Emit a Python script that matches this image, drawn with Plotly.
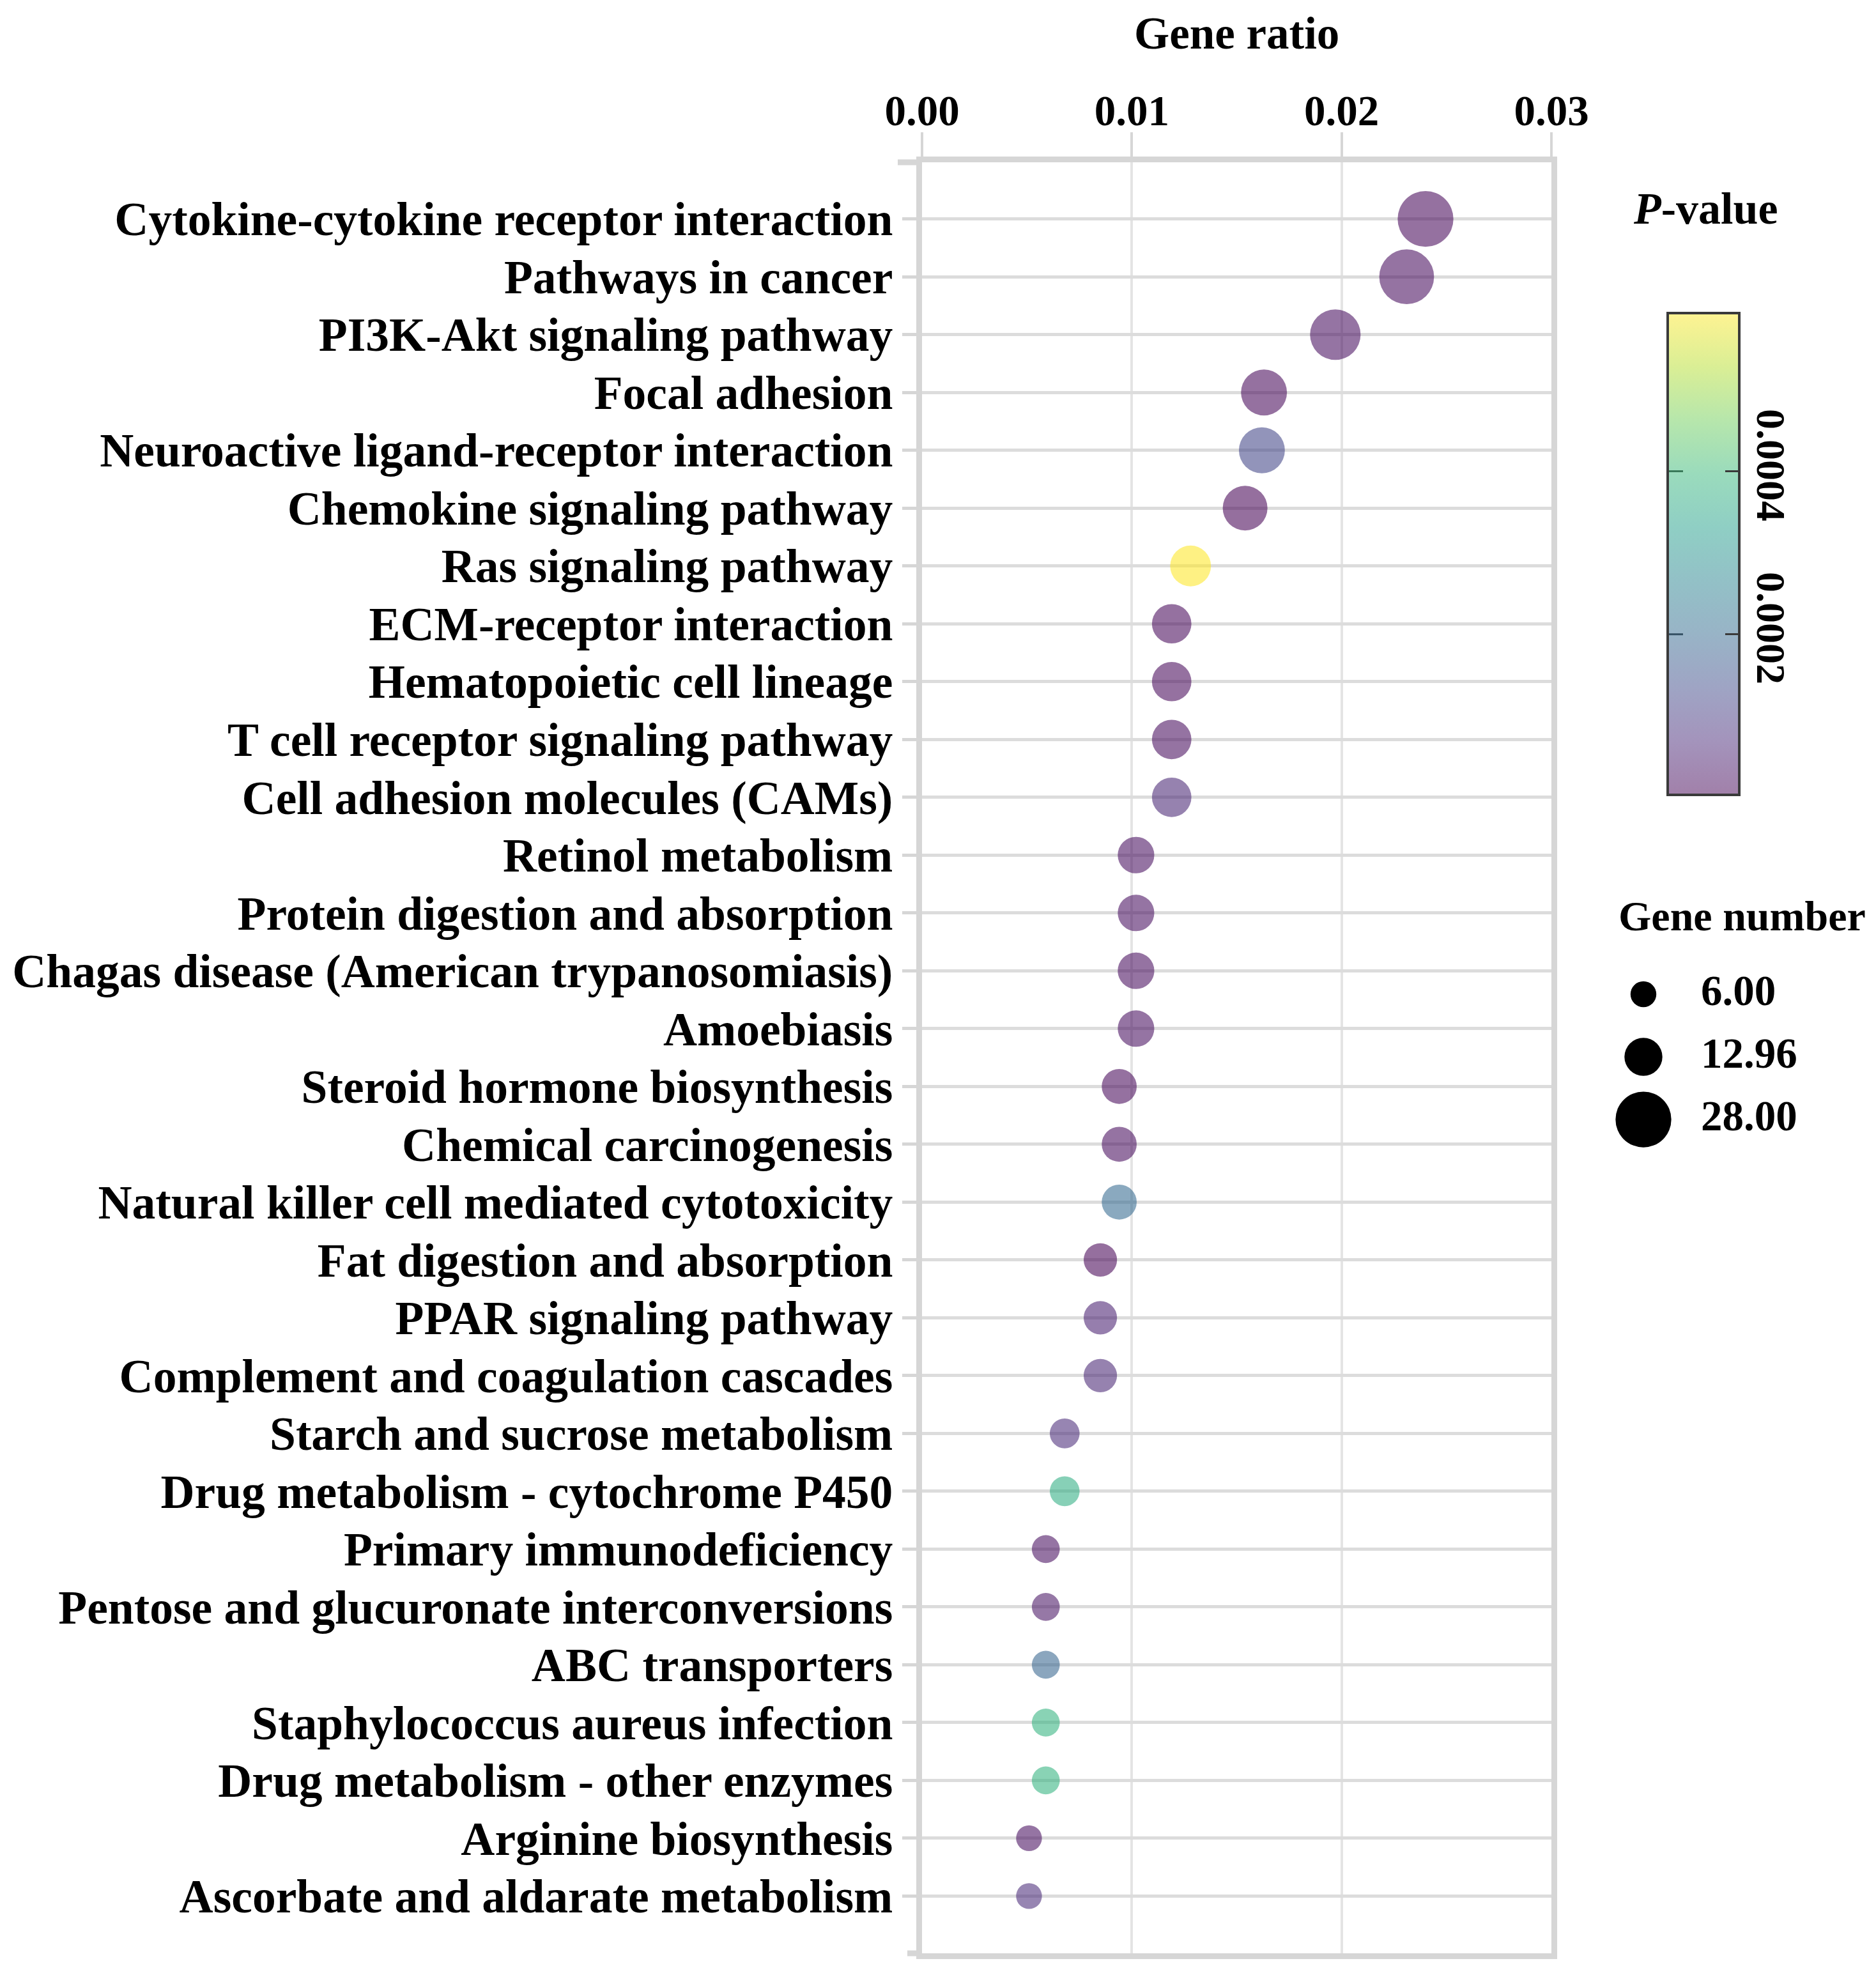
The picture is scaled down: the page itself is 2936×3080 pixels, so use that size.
import numpy as np
import plotly.graph_objects as go
import plotly.colors as pc

# ---------------- data ----------------
pathways = [
    "Cytokine-cytokine receptor interaction",
    "Pathways in cancer",
    "PI3K-Akt signaling pathway",
    "Focal adhesion",
    "Neuroactive ligand-receptor interaction",
    "Chemokine signaling pathway",
    "Ras signaling pathway",
    "ECM-receptor interaction",
    "Hematopoietic cell lineage",
    "T cell receptor signaling pathway",
    "Cell adhesion molecules (CAMs)",
    "Retinol metabolism",
    "Protein digestion and absorption",
    "Chagas disease (American trypanosomiasis)",
    "Amoebiasis",
    "Steroid hormone biosynthesis",
    "Chemical carcinogenesis",
    "Natural killer cell mediated cytotoxicity",
    "Fat digestion and absorption",
    "PPAR signaling pathway",
    "Complement and coagulation cascades",
    "Starch and sucrose metabolism",
    "Drug metabolism - cytochrome P450",
    "Primary immunodeficiency",
    "Pentose and glucuronate interconversions",
    "ABC transporters",
    "Staphylococcus aureus infection",
    "Drug metabolism - other enzymes",
    "Arginine biosynthesis",
    "Ascorbate and aldarate metabolism",
]
gene_ratio = [0.0240, 0.0231, 0.0197, 0.0163, 0.0162, 0.0154, 0.0128,
              0.0119, 0.0119, 0.0119, 0.0119, 0.0102, 0.0102, 0.0102,
              0.0102, 0.0094, 0.0094, 0.0094, 0.0085, 0.0085, 0.0085,
              0.0068, 0.0068, 0.0059, 0.0059, 0.0059, 0.0059, 0.0059,
              0.0051, 0.0051]
gene_number = [28, 27, 23, 19, 19, 18, 15, 14, 14, 14, 14, 12, 12, 12, 12,
               11, 11, 11, 10, 10, 10, 8, 8, 7, 7, 7, 7, 7, 6, 6]
p_value = [1.0e-5, 1.5e-5, 2.0e-5, 1.0e-5, 1.2e-4, 5.0e-6, 5.94e-4,
           1.0e-5, 1.0e-5, 1.5e-5, 6.0e-5, 2.0e-5, 2.0e-5, 1.5e-5,
           2.0e-5, 1.0e-5, 1.5e-5, 2.0e-4, 3.0e-6, 5.0e-5, 6.0e-5,
           7.0e-5, 3.7e-4, 2.0e-5, 3.0e-5, 1.9e-4, 3.8e-4, 3.8e-4,
           2.0e-5, 7.0e-5]
x_ticks = [0.00, 0.01, 0.02, 0.03]
cbar_ticks = [0.0002, 0.0004]
size_legend_values = [6.00, 12.96, 28.00]
size_legend_labels = ["6.00", "12.96", "28.00"]

# ---------------- style ----------------
FONT = "Liberation Serif"
GRID = "#dcdcdc"
FRAME = "#d6d6d6"
K = 16.5  # px per sqrt(gene number)

def rgba_scale(alpha):
    cols = pc.sequential.Viridis
    n = len(cols)
    out = []
    for i, c in enumerate(cols):
        r, g, b = pc.hex_to_rgb(c)
        out.append([i / (n - 1), f"rgba({r},{g},{b},{alpha})"])
    return out

W, H = 2936, 3080
ML, MR, MT, MB = 1435, 0, 246, 31
PW, PH = W - ML - MR, H - MT - MB
def px_x(px):
    return (px - ML) / PW
def px_y(py):
    return (H - MB - py) / PH

main_right = 2420
cmin, cmax = min(p_value), max(p_value)
CB_LEFT, CB_TOP, CB_LEN, CB_THICK = 2602, 482, 754, 112

fig = go.Figure()

fig.add_trace(go.Scatter(
    x=gene_ratio, y=pathways, mode="markers",
    marker=dict(
        size=[K * np.sqrt(n) for n in gene_number],
        color=p_value, colorscale=rgba_scale(0.57),
        cmin=cmin, cmax=cmax, opacity=1,
        line=dict(width=0), showscale=False,
    ),
    showlegend=False, hoverinfo="skip",
))

# colour bar (paler, as in the reference)
fig.add_trace(go.Scatter(
    x=[None], y=[None], mode="markers",
    marker=dict(
        color=[cmin], colorscale=rgba_scale(0.5), cmin=cmin, cmax=cmax,
        showscale=True,
        colorbar=dict(
            x=px_x(CB_LEFT), xanchor="left", xpad=0,
            y=px_y(CB_TOP), yanchor="top", ypad=0,
            len=CB_LEN, lenmode="pixels",
            thickness=CB_THICK, thicknessmode="pixels",
            outlinewidth=4, outlinecolor="#3a3a3a",
            tickvals=cbar_ticks, ticktext=[f"{v:.4f}" for v in cbar_ticks],
            ticks="inside", ticklen=24, tickwidth=3, tickcolor="#3a3a3a",
            tickangle=90,
            tickfont=dict(family=FONT, size=64, color="black", weight="bold"),
        ),
    ),
    showlegend=False, hoverinfo="skip",
))

# size legend drawn on an auxiliary hidden axis
fig.add_trace(go.Scatter(
    x=[64] * len(size_legend_values), y=list(range(len(size_legend_values))),
    mode="markers",
    marker=dict(size=[K * np.sqrt(v) for v in size_legend_values], color="black",
                opacity=1, line=dict(width=0)),
    xaxis="x2", yaxis="y2", showlegend=False, hoverinfo="skip",
))
fig.add_trace(go.Scatter(
    x=[154] * len(size_legend_labels), y=list(range(len(size_legend_labels))),
    mode="text", text=size_legend_labels, textposition="middle right",
    textfont=dict(family=FONT, size=67, color="black", weight="bold"),
    xaxis="x2", yaxis="y2", showlegend=False, hoverinfo="skip",
))

# decorative: frame lines extending left of the plot, and colour-bar ticks on the left side
shapes = [
    dict(type="line", xref="paper", yref="paper", x0=px_x(1397), x1=0, y0=1, y1=1,
         line=dict(color=FRAME, width=9), layer="below"),
    dict(type="line", xref="paper", yref="paper", x0=px_x(1412), x1=0, y0=0, y1=0,
         line=dict(color=FRAME, width=9), layer="below"),
]
for v in cbar_ticks:
    ty = CB_TOP + (cmax - v) / (cmax - cmin) * CB_LEN
    shapes.append(dict(type="line", xref="paper", yref="paper",
                       x0=px_x(CB_LEFT), x1=px_x(CB_LEFT + 24),
                       y0=px_y(ty), y1=px_y(ty),
                       line=dict(color="#3a3a3a", width=3)))

fig.update_layout(
    width=W, height=H,
    margin=dict(l=ML, r=MR, t=MT, b=MB, pad=0, autoexpand=False),
    paper_bgcolor="white", plot_bgcolor="white",
    font=dict(family=FONT, color="black"),
    shapes=shapes,
    xaxis=dict(
        domain=[0, px_x(main_right)], side="top",
        range=[0, 0.03], tickvals=x_ticks, tickformat=".2f",
        ticks="outside", ticklen=38, tickwidth=4, tickcolor=FRAME,
        ticklabelstandoff=-16,
        showgrid=True, gridcolor="#e4e4e4", gridwidth=4,
        showline=True, linecolor=FRAME, linewidth=9, mirror=True,
        zeroline=False, automargin=False,
        tickfont=dict(family=FONT, size=67, color="black", weight="bold"),
    ),
    yaxis=dict(
        type="category", categoryorder="array", categoryarray=pathways,
        range=[29.99, -0.98],
        ticks="outside", ticklen=22, tickwidth=5, tickcolor=FRAME,
        showgrid=True, gridcolor=GRID, gridwidth=4.5,
        showline=True, linecolor=FRAME, linewidth=9, mirror=True,
        zeroline=False, automargin=False,
        tickfont=dict(family=FONT, size=73.5, color="black", weight="bold"),
    ),
    xaxis2=dict(domain=[px_x(2500), 1.0], anchor="y2", range=[0, 436],
                visible=False, fixedrange=True),
    yaxis2=dict(domain=[px_y(1796), px_y(1496)], anchor="x2",
                range=[2.53, -0.53], visible=False, fixedrange=True),
    annotations=[
        dict(text="Gene ratio", xref="paper", yref="paper",
             x=px_x((ML + main_right) / 2), y=px_y(44),
             xanchor="center", yanchor="middle", showarrow=False,
             font=dict(family=FONT, size=71, color="black", weight="bold")),
        dict(text="<i>P</i>-value", xref="paper", yref="paper",
             x=px_x(2661), y=px_y(318),
             xanchor="center", yanchor="middle", showarrow=False,
             font=dict(family=FONT, size=70, color="black", weight="bold")),
        dict(text="Gene number", xref="paper", yref="paper",
             x=px_x(2718), y=px_y(1426),
             xanchor="center", yanchor="middle", showarrow=False,
             font=dict(family=FONT, size=66, color="black", weight="bold")),
    ],
)

fig.write_html("out.html")
